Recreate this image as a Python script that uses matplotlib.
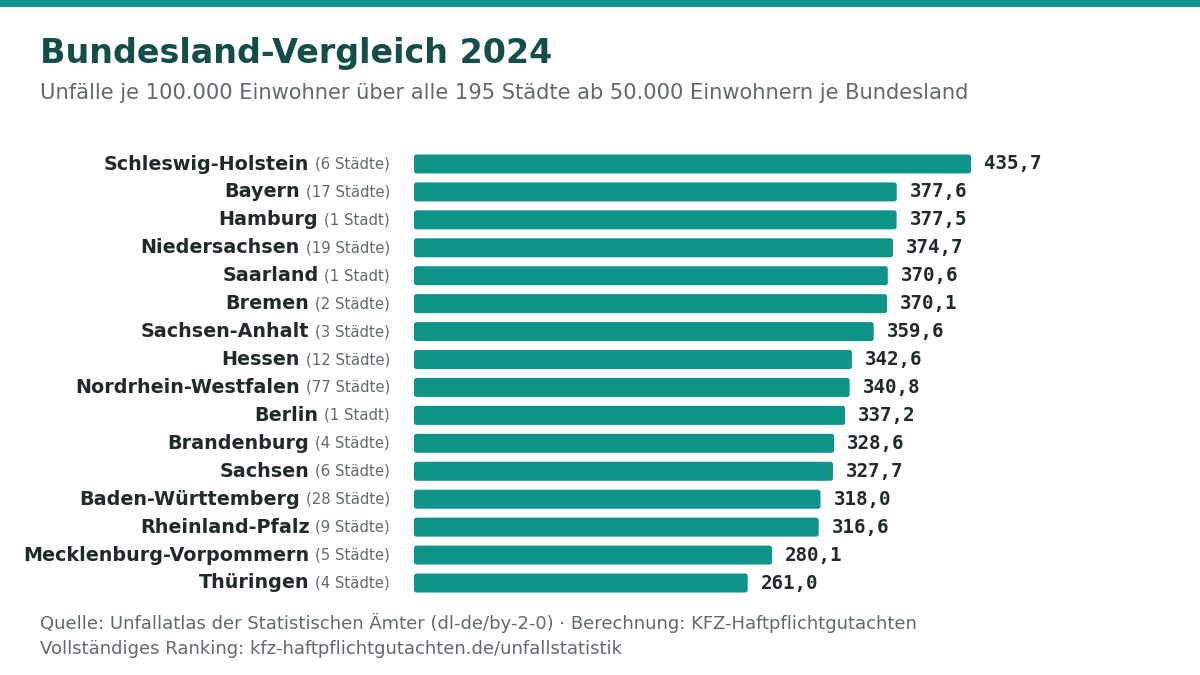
import matplotlib
matplotlib.use("Agg")
import matplotlib.pyplot as plt
from matplotlib.patches import FancyBboxPatch

plt.rcParams["font.family"] = ["DejaVu Sans"]

# Daten
laender = ["Schleswig-Holstein", "Bayern", "Hamburg", "Niedersachsen", "Saarland",
           "Bremen", "Sachsen-Anhalt", "Hessen", "Nordrhein-Westfalen", "Berlin",
           "Brandenburg", "Sachsen", "Baden-Württemberg", "Rheinland-Pfalz",
           "Mecklenburg-Vorpommern", "Thüringen"]
staedte = [6, 17, 1, 19, 1, 2, 3, 12, 77, 1, 4, 6, 28, 9, 5, 4]
unfaelle = [435.7, 377.6, 377.5, 374.7, 370.6, 370.1, 359.6, 342.6, 340.8, 337.2,
            328.6, 327.7, 318.0, 316.6, 280.1, 261.0]

TEAL = "#0e9488"
DARK = "#134e4a"
TEXT = "#1e2b2a"
GRAY = "#5e6b6a"

W, H = 1200, 675
fig = plt.figure(figsize=(12, 6.75), dpi=100)
fig.patch.set_facecolor("white")

# Balken oben
fig.add_artist(plt.Rectangle((0, 1 - 7 / H), 1, 7 / H, transform=fig.transFigure,
                             color=TEAL, lw=0))

fig.text(40 / W, 1 - 53.5 / H, "Bundesland-Vergleich 2024", fontsize=24, fontweight="bold",
         color=DARK, va="center", ha="left")
fig.text(40 / W, 1 - 93 / H,
         "Unfälle je 100.000 Einwohner über alle 195 Städte ab 50.000 Einwohnern je Bundesland",
         fontsize=15.1, color=GRAY, va="center", ha="left")

ax_left, ax_right = 414, 1150
ax = fig.add_axes([ax_left / W, 1 - 597 / H, (ax_right - ax_left) / W, 447 / H])
px_per_unit = (971 - 414) / max(unfaelle)
ax.set_xlim(0, (ax_right - ax_left) / px_per_unit)
ax.set_ylim(len(laender) - 0.5, -0.5)
ax.axis("off")

ypos = list(range(len(laender)))
bars = ax.barh(ypos, unfaelle, height=0.68, color=TEAL)

# abgerundete Ecken
r_px = 2.5
r_x = r_px / px_per_unit
r_y = r_px / (447 / 16)
for b in bars:
    b.set_visible(False)
    p = FancyBboxPatch((b.get_x(), b.get_y()), b.get_width(), b.get_height(),
                       boxstyle=f"round,pad=0,rounding_size={r_x}",
                       mutation_aspect=r_y / r_x, facecolor=TEAL, edgecolor="none")
    ax.add_patch(p)

for y, v in zip(ypos, unfaelle):
    ax.annotate(f"{v:.1f}".replace(".", ","), (v, y), xytext=(13, 0),
                textcoords="offset pixels", va="center", ha="left",
                fontsize=13.8, fontweight="bold", family="DejaVu Sans Mono", color=TEXT)

fig.canvas.draw()
renderer = fig.canvas.get_renderer()
for y, name, n in zip(ypos, laender, staedte):
    ytxt = 1 - (164 + y * 27.93) / H
    t = fig.text(390 / W, ytxt, f"({n} {'Stadt' if n == 1 else 'Städte'})",
                 fontsize=10.7, color=GRAY, ha="right", va="center")
    bb = t.get_window_extent(renderer)
    fig.text((bb.x0 - 6) / W, ytxt, name, fontsize=13.8, fontweight="bold",
             color=TEXT, ha="right", va="center")

fig.text(40 / W, 1 - 623 / H,
         "Quelle: Unfallatlas der Statistischen Ämter (dl-de/by-2-0) · Berechnung: KFZ-Haftpflichtgutachten",
         fontsize=13, color=GRAY, va="center", ha="left")
fig.text(40 / W, 1 - 649 / H,
         "Vollständiges Ranking: kfz-haftpflichtgutachten.de/unfallstatistik",
         fontsize=13, color=GRAY, va="center", ha="left")

fig.savefig("out.png", dpi=100, facecolor="white")
